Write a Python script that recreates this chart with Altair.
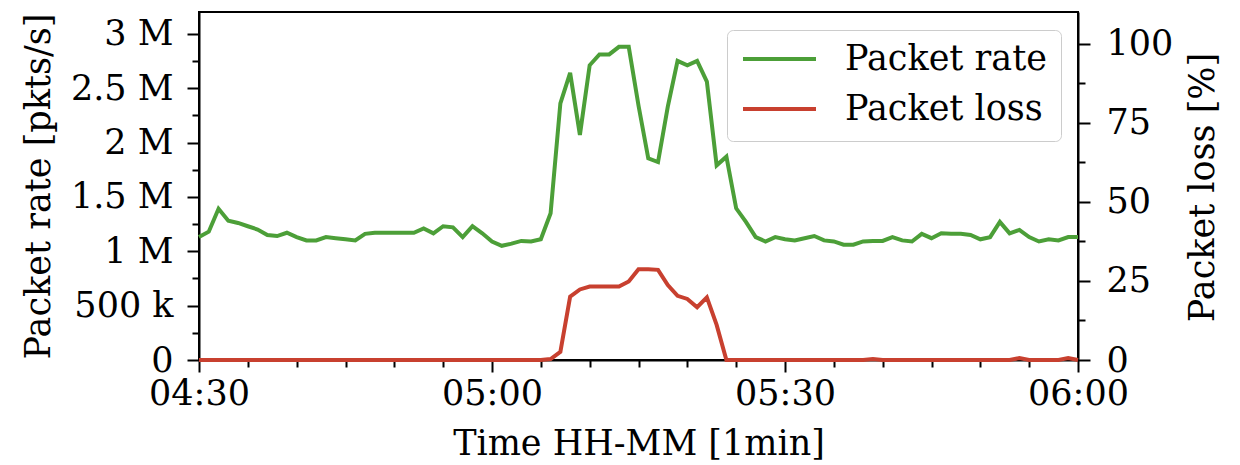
import altair as alt
import pandas as pd

# ---- data (1-minute samples, 04:30 -> 06:00) ----
minutes = list(range(91))
packet_rate_m = [
    1.13, 1.18, 1.39, 1.28, 1.26, 1.23, 1.20, 1.15, 1.14, 1.17,
    1.13, 1.10, 1.10, 1.13, 1.12, 1.11, 1.10, 1.16, 1.17, 1.17,
    1.17, 1.17, 1.17, 1.21, 1.165, 1.23, 1.22, 1.13, 1.23, 1.165,
    1.09, 1.05, 1.07, 1.095, 1.09, 1.11, 1.35, 2.36, 2.64, 2.07,
    2.71, 2.81, 2.81, 2.88, 2.88, 2.34, 1.855, 1.82, 2.33, 2.75,
    2.71, 2.75, 2.56, 1.79, 1.87, 1.395, 1.27, 1.13, 1.09, 1.13,
    1.11, 1.10, 1.12, 1.14, 1.10, 1.09, 1.06, 1.06, 1.09, 1.095,
    1.095, 1.13, 1.10, 1.09, 1.16, 1.12, 1.165, 1.16, 1.16, 1.15,
    1.11, 1.13, 1.27, 1.165, 1.196, 1.13, 1.09, 1.11, 1.10, 1.13,
    1.13,
]
packet_loss_pct = [
    0, 0, 0, 0, 0, 0, 0, 0, 0, 0,
    0, 0, 0, 0, 0, 0, 0, 0, 0, 0,
    0, 0, 0, 0, 0, 0, 0, 0, 0, 0,
    0, 0, 0, 0, 0, 0, 0.3, 2.6, 20.0, 22.3,
    23.2, 23.2, 23.2, 23.2, 24.8, 28.7, 28.7, 28.5, 23.7, 20.3,
    19.3, 16.7, 19.8, 11.1, 0, 0, 0, 0, 0, 0,
    0, 0, 0, 0, 0, 0, 0, 0, 0, 0.3,
    0, 0, 0, 0, 0, 0, 0, 0, 0, 0,
    0, 0, 0, 0, 0.6, 0, 0, 0, 0, 0.6,
    0,
]

series = ["Packet rate", "Packet loss"]
colors = ["#4c9f38", "#c8402f"]

x_tick_values = [0, 30, 60, 90]
x_tick_labels = ["04:30", "05:00", "05:30", "06:00"]
x_minor_ticks = [5, 10, 15, 20, 25, 35, 40, 45, 50, 55, 65, 70, 75, 80, 85]
rate_ticks = [0, 500000, 1000000, 1500000, 2000000, 2500000, 3000000]
rate_tick_labels = ["0", "500 k", "1 M", "1.5 M", "2 M", "2.5 M", "3 M"]
rate_minor_ticks = [250000, 750000, 1250000, 1750000, 2250000, 2750000]
loss_ticks = [0, 25, 50, 75, 100]
loss_minor_ticks = [12.5, 37.5, 62.5, 87.5]

X_DOMAIN = [0, 90]
RATE_DOMAIN = [0, 3200000]
LOSS_DOMAIN = [0, 110]

FONT = "DejaVu Serif"
FS = 35
LW = 4


def label_expr(values, labels):
    parts = [f"datum.value == {v} ? '{l}'" for v, l in zip(values, labels)]
    return " : ".join(parts) + " : ''"


rate_df = pd.DataFrame({"minute": minutes,
                        "value": [v * 1e6 for v in packet_rate_m],
                        "series": series[0]})
loss_df = pd.DataFrame({"minute": minutes,
                        "value": packet_loss_pct,
                        "series": series[1]})

common = dict(domainColor="black", domainWidth=2, tickColor="black", tickWidth=2,
              labelFont=FONT, labelFontSize=FS, labelColor="black",
              titleFont=FONT, titleFontSize=FS, titleFontWeight="normal",
              titleColor="black", grid=False)
minor = dict(labels=False, domain=False, tickColor="black", tickWidth=2,
             tickSize=7, grid=False, title=None)

xscale = alt.Scale(domain=X_DOMAIN, nice=False, zero=False)
rate_scale = alt.Scale(domain=RATE_DOMAIN, nice=False)
loss_scale = alt.Scale(domain=LOSS_DOMAIN, nice=False)

color = alt.Color(
    "series:N",
    scale=alt.Scale(domain=series, range=colors),
    legend=alt.Legend(
        title=None, orient="none", legendX=528, legendY=18,
        symbolType="stroke", symbolSize=5329, symbolStrokeWidth=LW,
        clipHeight=30, rowPadding=15, labelOffset=27,
        labelFont=FONT, labelFontSize=FS, labelColor="black", labelLimit=400,
        padding=14, fillColor="white", strokeColor="#cccccc", cornerRadius=6,
    ),
)

rate_line = alt.Chart(rate_df).mark_line(strokeWidth=LW).encode(
    x=alt.X("minute:Q", scale=xscale,
            axis=alt.Axis(values=x_tick_values,
                          labelExpr=label_expr(x_tick_values, x_tick_labels),
                          tickSize=12, labelPadding=4, labelFlush=False,
                          labelOverlap=False, title="Time HH-MM [1min]",
                          titleBaseline="middle", titleY=83, **common)),
    y=alt.Y("value:Q", scale=rate_scale,
            axis=alt.Axis(orient="left", values=rate_ticks,
                          labelExpr=label_expr(rate_ticks, rate_tick_labels),
                          tickSize=12, labelPadding=14, labelOverlap=False,
                          title="Packet rate [pkts/s]", titleAngle=270,
                          titleBaseline="middle", titleAlign="center",
                          titleX=-161, titleY=174, **common)),
    color=color,
)

loss_line = alt.Chart(loss_df).mark_line(strokeWidth=LW).encode(
    x=alt.X("minute:Q", scale=xscale, axis=None),
    y=alt.Y("value:Q", scale=loss_scale,
            axis=alt.Axis(orient="right", values=loss_ticks,
                          tickSize=12, labelPadding=16, labelOverlap=False,
                          title="Packet loss [%]", titleAngle=270,
                          titleBaseline="middle", titleAlign="center",
                          titleX=124, titleY=175, **common)),
    color=color,
)

minor_rate = alt.Chart(rate_df).mark_line(opacity=0).encode(
    x=alt.X("minute:Q", scale=xscale,
            axis=alt.Axis(orient="bottom", values=x_minor_ticks, **minor)),
    y=alt.Y("value:Q", scale=rate_scale,
            axis=alt.Axis(orient="left", values=rate_minor_ticks, **minor)),
)

minor_loss = alt.Chart(loss_df).mark_line(opacity=0).encode(
    x=alt.X("minute:Q", scale=xscale, axis=None),
    y=alt.Y("value:Q", scale=loss_scale,
            axis=alt.Axis(orient="right", values=loss_minor_ticks, **minor)),
)

chart = (
    alt.layer(rate_line, loss_line, minor_rate, minor_loss)
    .resolve_scale(x="independent", y="independent")
    .resolve_axis(x="independent", y="independent")
    .properties(width=879, height=348,
                padding={"left": 191, "top": 4, "right": 150, "bottom": 104},
                autosize=alt.AutoSizeParams(type="none"),
                background="white")
    .configure_view(stroke="black", strokeWidth=2)
)

chart.save("out.html", embed_options={"renderer": "svg", "actions": False})
